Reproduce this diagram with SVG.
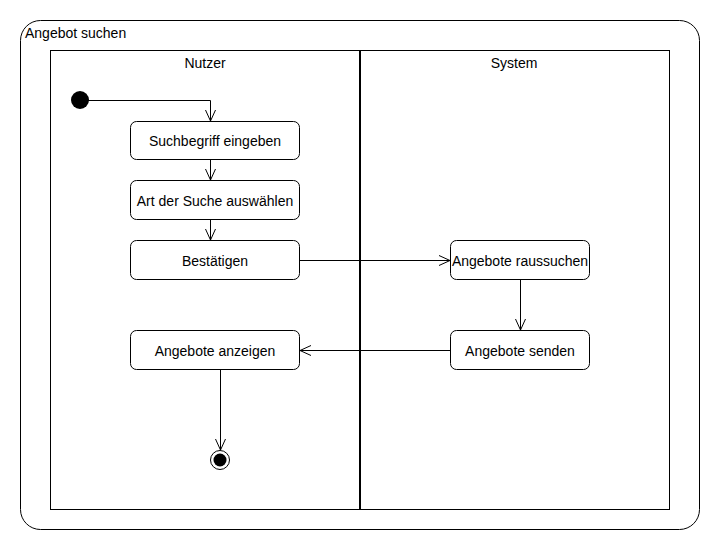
<svg xmlns="http://www.w3.org/2000/svg" width="720" height="550" viewBox="0 0 720 550">
<style>
text{font-family:"Liberation Sans",Arial,sans-serif;font-size:14px;fill:#000}
.act{fill:#fff;stroke:#000;stroke-width:1}
.c{fill:none;stroke:#000;stroke-width:1}
.ah{fill:none;stroke:#000;stroke-width:1}
</style>
<rect width="720" height="550" fill="#fff"/>
<g id="frame">
<rect x="20.5" y="20.5" width="679" height="509" rx="20" ry="20" fill="none" stroke="#000"/>
<text x="25" y="38">Angebot suchen</text>
</g>
<g id="lanes">
<rect x="50.5" y="50.5" width="619" height="459" fill="none" stroke="#000"/>
<line x1="360" y1="50" x2="360" y2="510" stroke="#000" stroke-width="2"/>
<text x="205" y="68" text-anchor="middle">Nutzer</text>
<text x="514" y="68" text-anchor="middle">System</text>
</g>
<g id="start"><circle cx="80" cy="100" r="9" fill="#000"/></g>
<g id="n1"><rect class="act" x="130.5" y="121.5" width="169" height="38" rx="6"/><text x="215" y="146" text-anchor="middle">Suchbegriff eingeben</text></g>
<g id="n2"><rect class="act" x="130.5" y="180.5" width="169" height="39" rx="6"/><text x="215" y="206" text-anchor="middle">Art der Suche auswählen</text></g>
<g id="n3"><rect class="act" x="130.5" y="240.5" width="169" height="39" rx="6"/><text x="215" y="266" text-anchor="middle">Bestätigen</text></g>
<g id="n4"><rect class="act" x="450.5" y="240.5" width="139" height="39" rx="6"/><text x="520" y="266" text-anchor="middle">Angebote raussuchen</text></g>
<g id="n5"><rect class="act" x="450.5" y="330.5" width="139" height="39" rx="6"/><text x="520" y="356" text-anchor="middle">Angebote senden</text></g>
<g id="n6"><rect class="act" x="130.5" y="330.5" width="169" height="39" rx="6"/><text x="215" y="356" text-anchor="middle">Angebote anzeigen</text></g>
<g id="end"><circle cx="220" cy="460" r="9.5" fill="#fff" stroke="#000"/><circle cx="220" cy="460" r="6.5" fill="#000"/></g>
<g id="connectors">
<path class="c" d="M88 100.5H210.5V121"/><path class="ah" d="M205.5 110L210.5 121L215.5 110"/>
<path class="c" d="M210.5 160V180"/><path class="ah" d="M205.5 169L210.5 180L215.5 169"/>
<path class="c" d="M210.5 220V240"/><path class="ah" d="M205.5 229L210.5 240L215.5 229"/>
<path class="c" d="M300 260.5H450"/><path class="ah" d="M439 255.5L450 260.5L439 265.5"/>
<path class="c" d="M520.5 280V330"/><path class="ah" d="M515.5 319L520.5 330L525.5 319"/>
<path class="c" d="M450 350.5H300"/><path class="ah" d="M311 345.5L300 350.5L311 355.5"/>
<path class="c" d="M220.5 370V450"/><path class="ah" d="M215.5 439L220.5 450L225.5 439"/>
</g>
</svg>
